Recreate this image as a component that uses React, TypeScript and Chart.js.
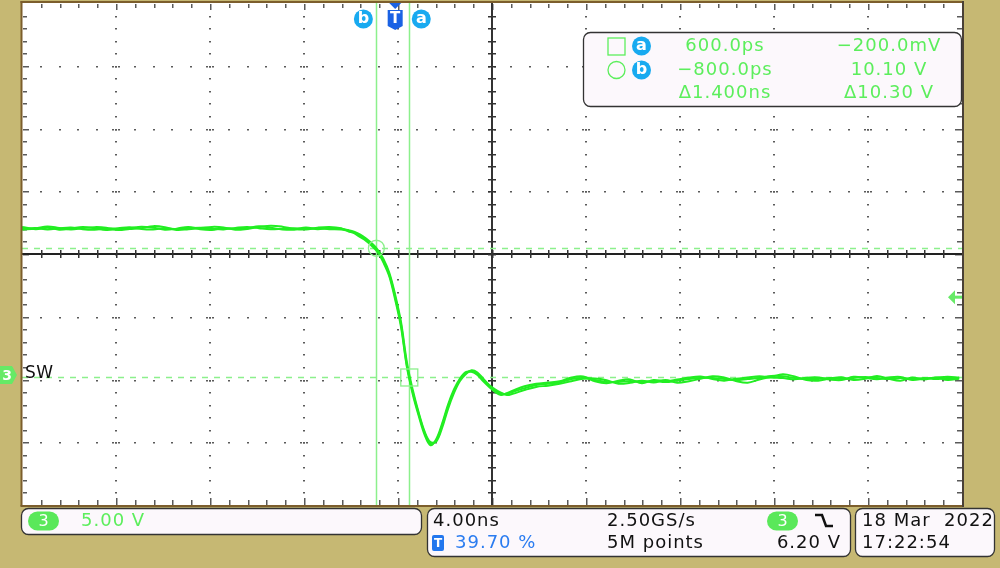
import { useEffect, useRef } from "react";
import { Chart, registerables } from "chart.js";

Chart.register(...registerables);

// ---- data (time in ns, voltage in V) ----
const timesNs = [
  -15.88, -15.3, -14.8, -14.3, -13.8, -13.3, -12.8, -12.3, -11.8, -11.3, -10.8, -10.3, -9.8, -9.3,
  -8.8, -8.3, -7.8, -7.3, -6.8, -6.3, -5.8, -5.3, -4.8, -4.3, -3.8, -3.3, -2.8, -2.3,
  -2.0, -1.75, -1.5, -1.25, -1.0, -0.75, -0.5, -0.25, 0, 0.25, 0.5, 0.75, 1.0, 1.25, 1.5, 1.75,
  2.0, 2.25, 2.5, 2.75, 3.0, 3.25, 3.5, 3.75, 4.0, 4.25, 4.5, 4.75, 5.0, 5.5, 6.0,
  6.5, 7.0, 7.5, 8.0, 8.5, 9.0, 9.5, 10.0, 10.5, 11.0, 11.5, 12.0, 12.5, 13.0, 13.5, 14.0, 14.5,
  15.0, 15.5, 16.0, 16.5, 17.0, 17.5, 18.0, 18.5, 19.0, 19.5, 20.0, 20.5, 21.0, 21.5, 22.0, 22.5,
  23.0, 23.5, 24.0,
];
const traceA = [
  11.65, 11.72, 11.6, 11.68, 11.75, 11.62, 11.58, 11.66, 11.7, 11.78, 11.64, 11.6, 11.7, 11.62,
  11.68, 11.74, 11.66, 11.6, 11.72, 11.8, 11.7, 11.62, 11.66, 11.7, 11.64, 11.68, 11.62, 11.6,
  11.5, 11.35, 11.1, 10.8, 10.4, 9.9, 9.1, 8.0, 6.2, 4.0, 0.75, -1.4, -3.1, -4.6, -5.5, -5.2,
  -4.0, -2.5, -1.3, -0.4, 0.15, 0.3, 0.08, -0.4, -0.85, -1.25, -1.5, -1.5, -1.35, -1.05, -0.8,
  -0.7, -0.6, -0.32, -0.24, -0.4, -0.56, -0.55, -0.48, -0.56, -0.48, -0.56, -0.45, -0.32, -0.24,
  -0.24, -0.32, -0.4, -0.32, -0.24, -0.08, -0.1, -0.24, -0.32, -0.32, -0.24, -0.32, -0.24, -0.16,
  -0.24, -0.32, -0.24, -0.32, -0.24, -0.32, -0.24, -0.24,
];
const traceB = [
  11.8, 11.62, 11.74, 11.58, 11.66, 11.8, 11.7, 11.56, 11.62, 11.7, 11.82, 11.74, 11.58, 11.66,
  11.8, 11.62, 11.56, 11.7, 11.64, 11.68, 11.86, 11.74, 11.6, 11.58, 11.76, 11.62, 11.72, 11.66,
  11.55, 11.42, 11.2, 10.9, 10.5, 10.0, 9.25, 8.15, 6.4, 4.2, 1.0, -1.2, -3.0, -4.5, -5.35, -5.3,
  -4.2, -2.7, -1.45, -0.5, 0.05, 0.38, 0.2, -0.3, -0.8, -1.15, -1.4, -1.6, -1.5, -1.2, -0.95,
  -0.85, -0.7, -0.5, -0.3, -0.28, -0.42, -0.7, -0.62, -0.45, -0.6, -0.4, -0.62, -0.5, -0.3,
  -0.1, -0.2, -0.48, -0.62, -0.36, -0.15, 0.05, -0.12, -0.4, -0.45, -0.28, -0.18, -0.4, -0.3,
  -0.08, -0.3, -0.45, -0.2, -0.36, -0.2, -0.4, -0.3,
];
const traceC = [
  11.58, 11.68, 11.84, 11.72, 11.6, 11.7, 11.78, 11.74, 11.56, 11.64, 11.7, 11.86, 11.78, 11.56,
  11.62, 11.7, 11.8, 11.76, 11.58, 11.64, 11.78, 11.9, 11.82, 11.64, 11.6, 11.74, 11.8, 11.7,
  11.45, 11.3, 11.0, 10.7, 10.3, 9.8, 8.95, 7.85, 6.0, 3.8, 0.6, -1.55, -3.25, -4.75, -5.6, -5.1,
  -3.85, -2.35, -1.15, -0.3, 0.22, 0.25, 0.0, -0.5, -0.95, -1.35, -1.6, -1.45, -1.25, -0.9, -0.7,
  -0.6, -0.5, -0.2, -0.12, -0.5, -0.66, -0.45, -0.35, -0.66, -0.4, -0.5, -0.36, -0.2, -0.12,
  -0.32, -0.45, -0.3, -0.2, -0.1, -0.2, -0.25, -0.35, -0.22, -0.2, -0.36, -0.4, -0.15, -0.22,
  -0.34, -0.2, -0.16, -0.4, -0.3, -0.22, -0.14, -0.2,
];

const timeRange = [-15.88, 24.12];
const voltRange = [-10.36, 29.64];
const timePerDiv = 4;
const voltsPerDiv = 5;
const subdivisions = 5;
const cursorA = { t: 0.6, v: -0.2 };
const cursorB = { t: -0.8, v: 10.1 };
const triggerTime = 0;
const triggerLevel = 6.2;
const groundLevel = 0;
const readoutTime = ["600.0ps", "−800.0ps", "Δ1.400ns"];
const readoutVolt = ["−200.0mV", "10.10 V", "Δ10.30 V"];
const channelLabel = "SW";
const channelScale = "5.00 V";
const timebase = "4.00ns";
const triggerPos = "39.70 %";
const sampleRate = "2.50GS/s";
const recordLen = "5M points";
const trigLevelText = "6.20 V";
const dateText = "18 Mar  2022";
const timeText = "17:22:54";

// ---- styles ----
const KHAKI = "#c6b873";
const TRACE = "#22ee22";
const CURSOR = "#8cf08c";
const TEXTGREEN = "#5cee5c";
const BLUE = "#18aaf0";
const TBLUE = "#1a62e4";
const FONT = '"DejaVu Sans", sans-serif';

function text(ctx: CanvasRenderingContext2D, s: string, x: number, y: number, color: string, align: CanvasTextAlign = "left", size = 18, weight = "normal", spacing = "1px") {
  ctx.save();
  ctx.font = `${weight} ${size}px ${FONT}`;
  (ctx as any).letterSpacing = spacing;
  ctx.fillStyle = color;
  ctx.textAlign = align;
  ctx.textBaseline = "middle";
  ctx.fillText(s, x, y);
  ctx.restore();
}

function badge(ctx: CanvasRenderingContext2D, ch: string, cx: number, cy: number) {
  ctx.beginPath();
  ctx.arc(cx, cy, 9.5, 0, Math.PI * 2);
  ctx.fillStyle = BLUE;
  ctx.fill();
  text(ctx, ch, cx, cy, "#fff", "center", 16, "bold", "0px");
}

function box(ctx: CanvasRenderingContext2D, x: number, y: number, w: number, h: number) {
  ctx.beginPath();
  (ctx as any).roundRect(x, y, w, h, 7);
  ctx.fillStyle = "#fcf8fc";
  ctx.fill();
  ctx.lineWidth = 1.3;
  ctx.strokeStyle = "#333";
  ctx.stroke();
}

function pill(ctx: CanvasRenderingContext2D, x: number, y: number) {
  ctx.beginPath();
  (ctx as any).roundRect(x, y, 31, 19, 9.5);
  ctx.fillStyle = "#5ae85a";
  ctx.fill();
  text(ctx, "3", x + 15.5, y + 10, "#fff", "center", 16, "normal", "0px");
}

const scopePlugin = {
  id: "scope",
  beforeDraw(chart: any) {
    const { ctx, chartArea: a } = chart;
    ctx.save();
    ctx.fillStyle = KHAKI;
    ctx.fillRect(0, 0, chart.width, chart.height);
    ctx.fillStyle = "#ffffff";
    ctx.fillRect(a.left, a.top, a.right - a.left, a.bottom - a.top);
    ctx.restore();
  },
  beforeDatasetsDraw(chart: any) {
    const { ctx, chartArea: a, scales } = chart;
    const xs = scales.x, ys = scales.y;
    ctx.save();
    const xDiv = (timeRange[1] - timeRange[0]) / timePerDiv;
    const yDiv = (voltRange[1] - voltRange[0]) / voltsPerDiv;
    const xSub = timePerDiv / subdivisions, ySub = voltsPerDiv / subdivisions;
    ctx.fillStyle = "#5a5a5a";
    for (let k = 1; k < xDiv; k++) {
      if (k === xDiv / 2) continue;
      const px = Math.round(xs.getPixelForValue(timeRange[0] + k * timePerDiv));
      for (let j = 1; j < yDiv * subdivisions; j++) {
        const py = Math.round(ys.getPixelForValue(voltRange[0] + j * ySub));
        ctx.fillRect(px - 1, py, 2, 1.5);
      }
    }
    for (let m = 1; m < yDiv; m++) {
      if (m === yDiv / 2) continue;
      const py = Math.round(ys.getPixelForValue(voltRange[0] + m * voltsPerDiv));
      for (let i = 1; i < xDiv * subdivisions; i++) {
        const px = Math.round(xs.getPixelForValue(timeRange[0] + i * xSub));
        ctx.fillRect(px - 1, py, 2, 1.5);
        if (i % subdivisions === 0) { ctx.fillRect(px - 4, py, 2, 1.5); ctx.fillRect(px + 2, py, 2, 1.5); }
      }
    }
    for (let j = 1; j < yDiv * subdivisions; j++) {
      const py = Math.round(ys.getPixelForValue(voltRange[0] + j * ySub));
      const long = j % subdivisions === 0;
      ctx.fillRect(a.left + 1, py, long ? 6 : 4, 1.5);
      ctx.fillRect(a.right - (long ? 7 : 5), py, long ? 7 : 5, 1.5);
    }
    for (let i = 1; i < xDiv * subdivisions; i++) {
      const px = Math.round(xs.getPixelForValue(timeRange[0] + i * xSub));
      const long = i % subdivisions === 0;
      ctx.fillRect(px, a.top + 1, 1.5, long ? 6 : 4);
      ctx.fillRect(px, a.bottom - (long ? 7 : 5), 1.5, long ? 7 : 5);
    }
    const cx = Math.round(xs.getPixelForValue((timeRange[0] + timeRange[1]) / 2));
    const cy = Math.round(ys.getPixelForValue((voltRange[0] + voltRange[1]) / 2));
    ctx.fillStyle = "#222";
    ctx.fillRect(a.left, cy - 1, a.right - a.left, 2);
    ctx.fillStyle = "#333";
    ctx.fillRect(cx - 1, a.top, 2, a.bottom - a.top);
    for (let i = 1; i < xDiv * subdivisions; i++) {
      const px = Math.round(xs.getPixelForValue(timeRange[0] + i * xSub));
      ctx.fillRect(px, cy - 4, 1.5, 8);
    }
    for (let j = 1; j < yDiv * subdivisions; j++) {
      const py = Math.round(ys.getPixelForValue(voltRange[0] + j * ySub));
      ctx.fillRect(cx - 4, py, 8, 1.5);
    }
    ctx.strokeStyle = CURSOR;
    ctx.lineWidth = 1.5;
    for (const c of [cursorA, cursorB]) {
      const px = Math.round(xs.getPixelForValue(c.t)) + 0.5;
      ctx.beginPath(); ctx.moveTo(px, a.top); ctx.lineTo(px, a.bottom); ctx.stroke();
    }
    ctx.setLineDash([6, 6]);
    for (const c of [cursorA, cursorB]) {
      const py = Math.round(ys.getPixelForValue(c.v)) + 0.5;
      ctx.beginPath(); ctx.moveTo(a.left, py); ctx.lineTo(a.right, py); ctx.stroke();
    }
    ctx.restore();
  },
  afterDatasetsDraw(chart: any) {
    const { ctx, chartArea: a, scales } = chart;
    const xs = scales.x, ys = scales.y;
    ctx.save();
    ctx.strokeStyle = CURSOR;
    ctx.lineWidth = 1.3;
    const bx = xs.getPixelForValue(cursorB.t), by = ys.getPixelForValue(cursorB.v);
    ctx.beginPath(); ctx.arc(bx, by, 8, 0, Math.PI * 2); ctx.stroke();
    const ax = xs.getPixelForValue(cursorA.t), ay = ys.getPixelForValue(cursorA.v);
    ctx.strokeRect(ax - 8.5, ay - 8.5, 17, 17);

    ctx.fillStyle = "#7c5e2c";
    ctx.fillRect(a.left - 1.5, a.top - 2, 2, a.bottom - a.top + 3);
    ctx.fillRect(a.left - 1.5, a.top - 2, a.right - a.left + 2, 2);
    ctx.fillRect(a.left - 1.5, a.bottom, a.right - a.left + 2, 2);
    ctx.fillStyle = "#4a4036";
    ctx.fillRect(a.right, a.top - 2, 2, a.bottom - a.top + 4);

    badge(ctx, "b", bx - 13, 19);
    badge(ctx, "a", ax + 12, 19);
    const tx = xs.getPixelForValue(triggerTime);
    ctx.fillStyle = TBLUE;
    ctx.beginPath();
    ctx.moveTo(tx - 6, a.top); ctx.lineTo(tx + 6, a.top); ctx.lineTo(tx, a.top + 6); ctx.closePath(); ctx.fill();
    ctx.beginPath();
    ctx.moveTo(tx - 7.5, 10); ctx.lineTo(tx + 7.5, 10); ctx.lineTo(tx + 7.5, 26); ctx.lineTo(tx, 30); ctx.lineTo(tx - 7.5, 26); ctx.closePath(); ctx.fill();
    text(ctx, "T", tx, 19, "#fff", "center", 15, "bold", "0px");

    const gy = ys.getPixelForValue(groundLevel);
    ctx.fillStyle = "#66ea66";
    ctx.beginPath();
    ctx.moveTo(0, gy - 9); ctx.lineTo(12, gy - 9); ctx.lineTo(17, gy); ctx.lineTo(12, gy + 9); ctx.lineTo(0, gy + 9); ctx.closePath(); ctx.fill();
    text(ctx, "3", 7, gy + 1, "#fff", "center", 14, "bold", "0px");
    text(ctx, channelLabel, 25, gy - 1, "#111", "left", 17, "normal", "0.5px");

    const ty = ys.getPixelForValue(triggerLevel);
    ctx.fillStyle = "#66ea66";
    ctx.beginPath();
    ctx.moveTo(a.right - 14, ty); ctx.lineTo(a.right - 7, ty - 7); ctx.lineTo(a.right - 7, ty + 7); ctx.closePath(); ctx.fill();
    ctx.fillRect(a.right - 8, ty - 1.5, 8, 3);

    box(ctx, 583.5, 32.5, 378, 74);
    const rows = [46, 70, 93];
    ctx.strokeStyle = TEXTGREEN;
    ctx.lineWidth = 1.3;
    ctx.strokeRect(608, 38, 17, 17);
    ctx.beginPath(); ctx.arc(616.5, 70, 8.5, 0, Math.PI * 2); ctx.stroke();
    badge(ctx, "a", 641.5, 46);
    badge(ctx, "b", 641.5, 70);
    for (let i = 0; i < 3; i++) {
      text(ctx, readoutTime[i], 725, rows[i], TEXTGREEN, "center");
      text(ctx, readoutVolt[i], 889, rows[i], TEXTGREEN, "center");
    }
    ctx.restore();
  },
  afterDraw(chart: any) {
    const { ctx } = chart;
    ctx.save();
    box(ctx, 21.5, 508.5, 400, 26);
    pill(ctx, 28, 511.5);
    text(ctx, channelScale, 81, 521.5, TEXTGREEN);

    box(ctx, 427.5, 508.5, 423, 48);
    text(ctx, timebase, 433, 521, "#111");
    ctx.fillStyle = "#2277ee";
    ctx.beginPath(); (ctx as any).roundRect(432, 535, 12, 16, 2); ctx.fill();
    text(ctx, "T", 438, 543.5, "#fff", "center", 12, "bold", "0px");
    text(ctx, triggerPos, 455, 543.5, "#2a7cf0");
    text(ctx, sampleRate, 607, 521, "#111");
    text(ctx, recordLen, 607, 543.5, "#111");
    pill(ctx, 767, 511.5);
    ctx.strokeStyle = "#111";
    ctx.lineWidth = 2.5;
    ctx.beginPath();
    ctx.moveTo(815, 515); ctx.lineTo(822, 515); ctx.lineTo(826, 526); ctx.lineTo(833, 526); ctx.stroke();
    text(ctx, trigLevelText, 841, 543.5, "#111", "right");

    box(ctx, 855.5, 508.5, 139, 48);
    text(ctx, dateText, 862, 521, "#111");
    text(ctx, timeText, 862, 543.5, "#111");
    ctx.restore();
  },
};

export default function App() {
  const ref = useRef<HTMLCanvasElement>(null);
  useEffect(() => {
    const canvas = ref.current!;
    const mk = (vals: number[]) => timesNs.map((t, i) => ({ x: t, y: vals[i] }));
    const chart = new Chart(canvas, {
      type: "line",
      data: {
        datasets: [traceA, traceB, traceC].map((v, i) => ({
          label: `trace ${i + 1}`,
          data: mk(v),
          borderColor: TRACE,
          borderWidth: 2,
          pointRadius: 0,
          tension: 0.35,
          fill: false,
        })),
      },
      options: {
        responsive: false,
        animation: false,
        events: [],
        layout: { padding: { left: 22, top: 3, right: 38, bottom: 63 } },
        scales: {
          x: { type: "linear", min: timeRange[0], max: timeRange[1], display: false },
          y: { type: "linear", min: voltRange[0], max: voltRange[1], display: false },
        },
        plugins: { legend: { display: false }, tooltip: { enabled: false } },
      },
      plugins: [scopePlugin],
    } as any);
    return () => chart.destroy();
  }, []);
  return (
    <div style={{ position: "fixed", left: 0, top: 0, width: 1000, height: 568, background: KHAKI }}>
      <canvas ref={ref} width={1000} height={568} style={{ display: "block" }} />
    </div>
  );
}
